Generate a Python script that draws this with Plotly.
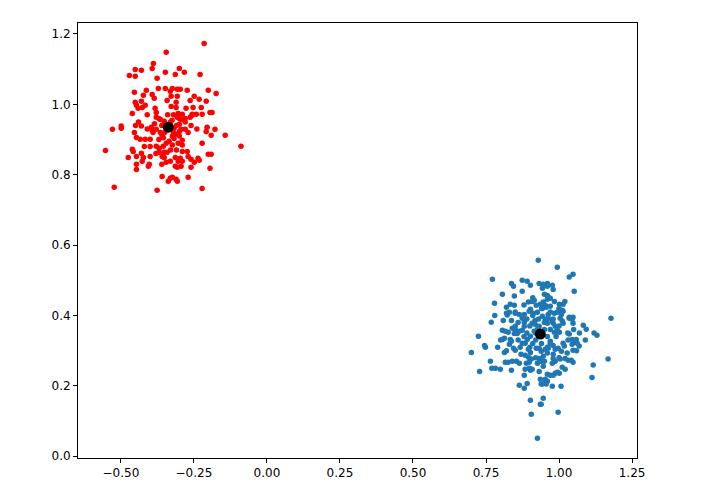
import plotly.graph_objects as go

# cluster A (red)
red_x = [-0.215, -0.345, -0.389, -0.393, -0.451, -0.430, -0.348, -0.314, -0.471, -0.451,
         -0.376, -0.372, -0.348, -0.324, -0.413, -0.454, -0.331, -0.423, -0.393, -0.328,
         -0.386, -0.342, -0.451, -0.430, -0.447, -0.417, -0.441, -0.427, -0.328, -0.383,
         -0.461, -0.379, -0.300, -0.283, -0.229, -0.307, -0.297, -0.273, -0.201, -0.174,
         -0.307, -0.249, -0.263, -0.232, -0.208, -0.311, -0.311, -0.277, -0.253, -0.225,
         -0.304, -0.290, -0.256, -0.242, -0.222, -0.195, -0.188, -0.529, -0.499, -0.499,
         -0.430, -0.553, -0.454, -0.447, -0.434, -0.417, -0.400, -0.396, -0.393, -0.379,
         -0.365, -0.359, -0.324, -0.318, -0.318, -0.379, -0.365, -0.352, -0.461, -0.458,
         -0.475, -0.447, -0.430, -0.423, -0.400, -0.427, -0.447, -0.447, -0.403, -0.406,
         -0.379, -0.369, -0.355, -0.345, -0.335, -0.324, -0.369, -0.352, -0.342, -0.359,
         -0.352, -0.345, -0.331, -0.314, -0.314, -0.359, -0.331, -0.324, -0.338, -0.311,
         -0.523, -0.376, -0.307, -0.294, -0.280, -0.263, -0.256, -0.300, -0.294, -0.300,
         -0.280, -0.307, -0.205, -0.208, -0.178, -0.191, -0.143, -0.089, -0.222, -0.290,
         -0.304, -0.290, -0.290, -0.273, -0.270, -0.201, -0.191, -0.236, -0.232, -0.260,
         -0.297, -0.304, -0.290, -0.294, -0.307, -0.249, -0.260, -0.195, -0.270, -0.307,
         -0.222, -0.360, -0.330, -0.310, -0.350, -0.320, -0.370, -0.300, -0.280, -0.340,
         -0.320, -0.390, -0.410, -0.370, -0.300, -0.260, -0.270, -0.400, -0.380, -0.330,
         -0.310, -0.360, -0.420, -0.440, -0.450, -0.410, -0.240, -0.355, -0.385, -0.325]
red_y = [1.173, 1.148, 1.116, 1.102, 1.099, 1.097, 1.091, 1.085, 1.082, 1.080,
         1.074, 1.045, 1.045, 1.045, 1.040, 1.034, 1.037, 1.026, 1.028, 1.023,
         1.017, 1.011, 1.006, 1.009, 0.997, 0.997, 0.989, 0.991, 0.994, 0.989,
         0.974, 0.977, 1.102, 1.091, 1.085, 1.043, 1.043, 1.040, 1.040, 1.031,
         1.023, 1.023, 1.011, 1.014, 1.009, 1.006, 0.991, 0.989, 0.991, 0.991,
         0.974, 0.972, 0.972, 0.972, 0.972, 0.977, 0.977, 0.929, 0.938, 0.932,
         0.938, 0.869, 0.920, 0.906, 0.901, 0.901, 0.901, 0.935, 0.926, 0.929,
         0.920, 0.912, 0.909, 0.903, 0.932, 0.963, 0.957, 0.952, 0.872, 0.866,
         0.849, 0.852, 0.861, 0.849, 0.852, 0.838, 0.830, 0.815, 0.830, 0.824,
         0.881, 0.875, 0.881, 0.889, 0.895, 0.884, 0.864, 0.864, 0.864, 0.852,
         0.849, 0.835, 0.838, 0.849, 0.824, 0.795, 0.790, 0.793, 0.781, 0.787,
         0.764, 0.756, 0.963, 0.957, 0.960, 0.963, 0.969, 0.943, 0.929, 0.923,
         0.929, 0.915, 0.935, 0.923, 0.929, 0.912, 0.912, 0.881, 0.889, 0.898,
         0.889, 0.884, 0.866, 0.866, 0.852, 0.858, 0.858, 0.847, 0.841, 0.844,
         0.847, 0.838, 0.838, 0.824, 0.821, 0.835, 0.821, 0.818, 0.793, 0.781,
         0.761, 0.940, 0.950, 0.940, 0.920, 0.920, 0.900, 0.960, 0.950, 0.970,
         0.970, 0.920, 0.930, 0.960, 0.910, 0.940, 0.920, 0.880, 0.860, 0.870,
         0.870, 0.830, 0.880, 0.950, 0.940, 0.970, 0.930, 0.905, 0.945, 0.955]

# cluster B (blue)
blue_x = [0.929, 0.772, 0.837, 0.844, 0.874, 0.891, 0.902, 0.932, 0.806, 0.847,
          0.874, 0.779, 0.833, 0.820, 0.847, 0.895, 0.908, 0.915, 0.922, 0.936,
          0.902, 0.898, 0.820, 0.830, 0.823, 0.850, 0.864, 0.881, 0.912, 0.926,
          0.994, 1.048, 1.035, 1.052, 0.946, 0.960, 0.960, 0.977, 0.943, 0.980,
          0.960, 0.963, 0.960, 0.970, 0.984, 0.946, 0.953, 0.956, 0.970, 0.943,
          1.001, 1.014, 1.011, 1.014, 1.008, 0.994, 0.984, 0.963, 1.035, 1.048,
          1.178, 0.768, 0.809, 0.837, 0.874, 0.881, 0.918, 0.724, 0.806, 0.816,
          0.826, 0.840, 0.850, 0.847, 0.857, 0.864, 0.874, 0.881, 0.700, 0.745,
          0.748, 0.806, 0.813, 0.833, 0.837, 0.830, 0.844, 0.850, 0.813, 0.867,
          0.874, 0.884, 0.891, 0.902, 0.915, 0.926, 0.932, 0.908, 0.918, 0.895,
          0.902, 0.922, 0.932, 0.939, 0.765, 0.816, 0.826, 0.854, 0.864, 0.884,
          0.895, 0.905, 0.898, 0.888, 0.932, 0.936, 0.926, 0.782, 0.799, 0.837,
          0.884, 0.898, 0.908, 0.902, 0.728, 0.881, 0.932, 1.083, 1.093, 1.130,
          0.943, 0.953, 0.963, 0.977, 0.980, 0.960, 1.004, 1.011, 1.014, 1.035,
          1.045, 1.048, 1.035, 1.031, 1.045, 1.059, 1.055, 1.062, 1.069, 1.045,
          1.048, 0.987, 0.994, 0.984, 1.001, 1.014, 1.018, 0.970, 0.980, 0.963,
          0.987, 0.997, 1.008, 1.028, 1.021, 1.031, 1.042, 1.048, 0.953, 0.960,
          0.946, 0.939, 0.946, 0.980, 0.980, 0.987, 0.977, 1.004, 1.011, 1.021,
          0.994, 1.001, 1.168, 1.117, 1.113, 0.960, 0.970, 0.980, 0.987, 0.936,
          0.953, 0.960, 0.864, 0.881, 0.891, 0.939, 0.902, 0.936, 0.905, 0.926,
          0.943, 0.953, 0.956, 0.977, 1.007, 0.946, 0.939, 0.997, 0.920, 0.950,
          0.960, 0.920, 0.900, 0.950, 0.970, 0.930, 0.890, 0.880, 0.910, 0.940,
          0.970, 0.990, 1.000, 0.980, 0.910, 0.890, 0.860, 0.860, 0.870, 0.920,
          0.950, 0.960, 0.900, 0.850, 0.940, 0.970, 1.000, 0.880, 0.910, 0.950,
          1.020, 1.030, 1.050, 1.070, 1.060, 1.090, 1.000, 0.840, 0.820, 0.800,
          0.790, 0.850, 0.780, 0.770, 1.120]
blue_y = [0.557, 0.503, 0.491, 0.483, 0.500, 0.497, 0.486, 0.491, 0.460, 0.455,
          0.469, 0.435, 0.432, 0.423, 0.429, 0.438, 0.440, 0.443, 0.429, 0.432,
          0.418, 0.412, 0.406, 0.409, 0.401, 0.406, 0.403, 0.403, 0.406, 0.409,
          0.537, 0.517, 0.509, 0.469, 0.489, 0.491, 0.483, 0.486, 0.477, 0.474,
          0.457, 0.452, 0.446, 0.449, 0.440, 0.438, 0.429, 0.423, 0.426, 0.420,
          0.432, 0.432, 0.415, 0.412, 0.403, 0.409, 0.406, 0.403, 0.395, 0.395,
          0.392, 0.381, 0.386, 0.386, 0.392, 0.381, 0.386, 0.341, 0.358, 0.355,
          0.352, 0.364, 0.369, 0.349, 0.349, 0.355, 0.358, 0.369, 0.295, 0.315,
          0.310, 0.332, 0.335, 0.332, 0.327, 0.318, 0.307, 0.301, 0.295, 0.310,
          0.321, 0.321, 0.332, 0.341, 0.355, 0.361, 0.369, 0.378, 0.375, 0.304,
          0.295, 0.307, 0.307, 0.298, 0.270, 0.267, 0.267, 0.270, 0.264, 0.287,
          0.281, 0.276, 0.267, 0.264, 0.278, 0.270, 0.264, 0.250, 0.247, 0.244,
          0.247, 0.250, 0.247, 0.244, 0.241, 0.230, 0.241, 0.372, 0.361, 0.344,
          0.398, 0.389, 0.392, 0.384, 0.378, 0.378, 0.392, 0.384, 0.378, 0.392,
          0.389, 0.378, 0.347, 0.330, 0.332, 0.332, 0.324, 0.321, 0.313, 0.318,
          0.301, 0.369, 0.358, 0.352, 0.352, 0.321, 0.313, 0.327, 0.315, 0.307,
          0.304, 0.307, 0.298, 0.293, 0.278, 0.273, 0.273, 0.267, 0.304, 0.293,
          0.284, 0.270, 0.256, 0.290, 0.278, 0.270, 0.264, 0.276, 0.253, 0.247,
          0.239, 0.236, 0.276, 0.259, 0.224, 0.233, 0.230, 0.230, 0.236, 0.219,
          0.219, 0.213, 0.202, 0.193, 0.207, 0.205, 0.159, 0.148, 0.119, 0.051,
          0.205, 0.210, 0.205, 0.199, 0.199, 0.165, 0.148, 0.125, 0.350, 0.360,
          0.340, 0.330, 0.370, 0.380, 0.360, 0.390, 0.350, 0.340, 0.320, 0.320,
          0.320, 0.340, 0.370, 0.390, 0.400, 0.390, 0.380, 0.330, 0.290, 0.280,
          0.270, 0.310, 0.310, 0.360, 0.420, 0.410, 0.420, 0.430, 0.450, 0.460,
          0.440, 0.350, 0.360, 0.350, 0.300, 0.330, 0.280, 0.270, 0.300, 0.330,
          0.310, 0.410, 0.400, 0.250, 0.350]

# cluster centres
centre_x = [-0.338, 0.936]
centre_y = [0.935, 0.347]

fig = go.Figure()

fig.add_trace(go.Scatter(x=red_x, y=red_y, mode="markers",
                         marker=dict(color="#ff0000", size=5.5, line=dict(width=0))))
fig.add_trace(go.Scatter(x=blue_x, y=blue_y, mode="markers",
                         marker=dict(color="#1f77b4", size=5.5, line=dict(width=0))))
fig.add_trace(go.Scatter(x=centre_x, y=centre_y, mode="markers",
                         marker=dict(color="black", size=11, line=dict(width=0))))

axis_style = dict(showgrid=False, zeroline=False, showline=True, mirror=True,
                  linecolor="black", linewidth=1, ticks="outside", ticklen=4,
                  tickcolor="black", tickfont=dict(family="DejaVu Sans", size=12, color="black"))

fig.update_xaxes(range=[-0.647, 1.267], tickvals=[-0.5, -0.25, 0, 0.25, 0.5, 0.75, 1.0, 1.25],
                 tickformat=".2f", **axis_style)
fig.update_yaxes(range=[-0.005, 1.231], tick0=0, dtick=0.2, tickformat=".1f", **axis_style)

# the page puts the figure 8px in from the corner, so margins are shifted by that
fig.update_layout(width=726, height=486, showlegend=False,
                  plot_bgcolor="white", paper_bgcolor="white",
                  margin=dict(l=70, r=97, t=15, b=36))

fig.write_html("out.html")
